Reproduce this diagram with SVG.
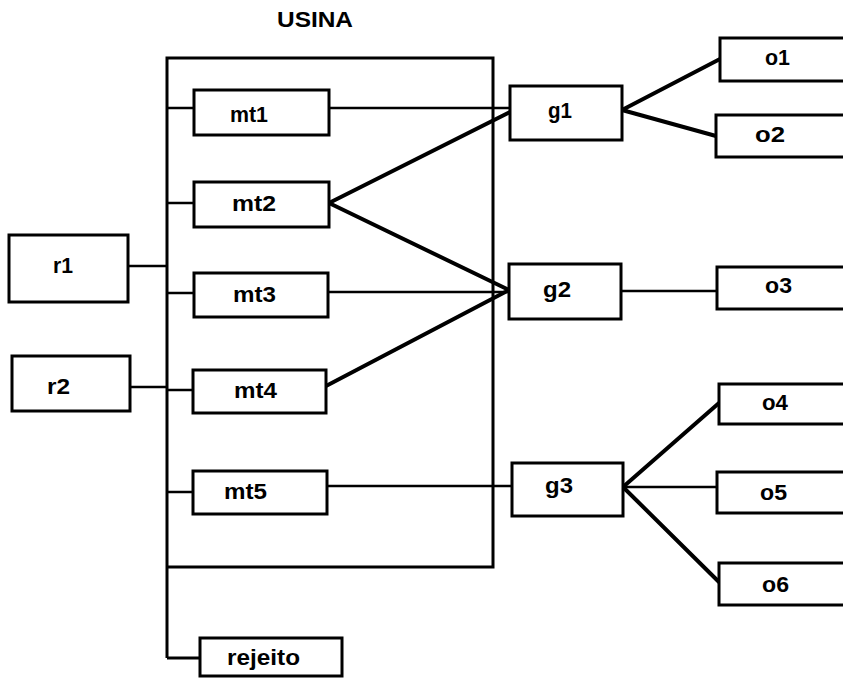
<svg xmlns="http://www.w3.org/2000/svg" width="843" height="678" viewBox="0 0 843 678">
<style>
.box{fill:#fff;stroke:#000;stroke-width:3}
.lbl{font-family:"Liberation Sans",Arial,sans-serif;font-weight:bold;font-size:22px;fill:#000}
.thin{fill:none;stroke:#000;stroke-width:2.5}
.frame{fill:none;stroke:#000;stroke-width:3}
.thick{fill:none;stroke:#000;stroke-width:4;stroke-linecap:round}
</style>
<rect width="843" height="678" fill="#fff"/>
<text class="lbl" x="277" y="27" textLength="76" lengthAdjust="spacingAndGlyphs">USINA</text>
<g id="connectors">
<path class="frame" d="M167,658 V58 H493 V567 H167 M167,658 H200"/>
<path class="thin" d="M128,266 H167 M130,387 H167 M167,108 H194 M329,108 H510 M167,203 H194 M167,293 H194 M328,292 H509 M167,390 H193 M167,492 H193 M327,486 H512 M621,291 H717 M623,487 H717"/>
<path class="thick" d="M329,203 L510,112 M329,203 L509,290 M326,386 L509,290 M622,110 L720,59 M622,110 L716,136 M623,487 L719,403 M623,487 L719,582"/>
</g>
<g id="r1"><rect class="box" x="9" y="235" width="119" height="67"/><text class="lbl" x="53" y="273" textLength="20" lengthAdjust="spacingAndGlyphs">r1</text></g>
<g id="r2"><rect class="box" x="12" y="356" width="118" height="55"/><text class="lbl" x="47" y="394" textLength="23" lengthAdjust="spacingAndGlyphs">r2</text></g>
<g id="mt1"><rect class="box" x="194" y="90" width="135" height="45"/><text class="lbl" x="230" y="122" textLength="38" lengthAdjust="spacingAndGlyphs">mt1</text></g>
<g id="mt2"><rect class="box" x="194" y="182" width="135" height="45"/><text class="lbl" x="232" y="211" textLength="44" lengthAdjust="spacingAndGlyphs">mt2</text></g>
<g id="mt3"><rect class="box" x="194" y="273" width="134" height="44"/><text class="lbl" x="233" y="302" textLength="43" lengthAdjust="spacingAndGlyphs">mt3</text></g>
<g id="mt4"><rect class="box" x="193" y="370" width="133" height="43"/><text class="lbl" x="234" y="398" textLength="43" lengthAdjust="spacingAndGlyphs">mt4</text></g>
<g id="mt5"><rect class="box" x="193" y="471" width="134" height="43"/><text class="lbl" x="224" y="499" textLength="43" lengthAdjust="spacingAndGlyphs">mt5</text></g>
<g id="rejeito"><rect class="box" x="200" y="638" width="142" height="38"/><text class="lbl" x="227" y="665" textLength="73" lengthAdjust="spacingAndGlyphs">rejeito</text></g>
<g id="g1"><rect class="box" x="510" y="86" width="112" height="54"/><text class="lbl" x="548" y="118" textLength="24" lengthAdjust="spacingAndGlyphs">g1</text></g>
<g id="g2"><rect class="box" x="509" y="264" width="112" height="55"/><text class="lbl" x="543" y="297" textLength="28" lengthAdjust="spacingAndGlyphs">g2</text></g>
<g id="g3"><rect class="box" x="512" y="463" width="111" height="53"/><text class="lbl" x="545" y="493" textLength="28" lengthAdjust="spacingAndGlyphs">g3</text></g>
<g id="o1"><rect class="box" x="720" y="38" width="130" height="43"/><text class="lbl" x="765" y="65" textLength="25" lengthAdjust="spacingAndGlyphs">o1</text></g>
<g id="o2"><rect class="box" x="716" y="115" width="130" height="42"/><text class="lbl" x="755" y="142" textLength="30" lengthAdjust="spacingAndGlyphs">o2</text></g>
<g id="o3"><rect class="box" x="717" y="267" width="130" height="42"/><text class="lbl" x="765" y="293" textLength="27" lengthAdjust="spacingAndGlyphs">o3</text></g>
<g id="o4"><rect class="box" x="719" y="384" width="130" height="40"/><text class="lbl" x="762" y="410" textLength="26" lengthAdjust="spacingAndGlyphs">o4</text></g>
<g id="o5"><rect class="box" x="717" y="472" width="130" height="41"/><text class="lbl" x="760" y="500" textLength="27" lengthAdjust="spacingAndGlyphs">o5</text></g>
<g id="o6"><rect class="box" x="719" y="563" width="130" height="42"/><text class="lbl" x="762" y="592" textLength="27" lengthAdjust="spacingAndGlyphs">o6</text></g>
</svg>
